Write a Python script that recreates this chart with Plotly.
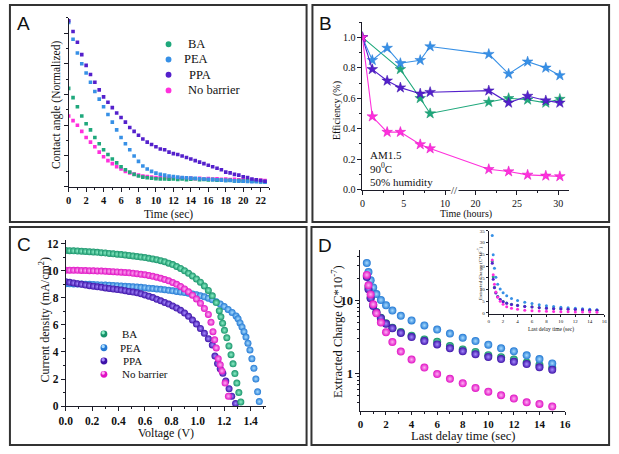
import plotly.graph_objects as go

W, H = 619, 454
def px(x): return x / W
def py(y): return 1 - y / H

SERIF = "Liberation Serif"
SANS = "Liberation Sans"
AX = "#1c1c28"
TXT = "#111111"

# ---------------- Panel A : contact angle vs time ----------------
a_time = [0, 0.5, 1, 1.5, 2, 2.5, 3, 3.5, 4, 4.5, 5, 5.5, 6, 6.5, 7, 7.5, 8, 8.5, 9, 9.5,
          10, 10.5, 11, 11.5, 12, 12.5, 13, 13.5, 14, 14.5, 15, 15.5, 16, 16.5, 17, 17.5,
          18, 18.5, 19, 19.5, 20, 20.5, 21, 21.5, 22, 22.5]
a_ppa = [1.08, 1.01, 0.94, 0.86, 0.79, 0.73, 0.68, 0.63, 0.585, 0.55, 0.515, 0.48, 0.45, 0.42,
         0.385, 0.36, 0.335, 0.31, 0.29, 0.275, 0.26, 0.245, 0.24, 0.225, 0.215, 0.21, 0.2,
         0.19, 0.18, 0.17, 0.16, 0.15, 0.14, 0.13, 0.12, 0.11, 0.095, 0.09, 0.08, 0.075, 0.065,
         0.06, 0.05, 0.045, 0.04, 0.035]
a_pea = [1.07, 0.96, 0.87, 0.80, 0.74, 0.68, 0.62, 0.57, 0.52, 0.47, 0.42, 0.37, 0.32, 0.28,
         0.24, 0.20, 0.165, 0.135, 0.115, 0.10, 0.088, 0.08, 0.075, 0.07, 0.066, 0.062, 0.06,
         0.058, 0.056, 0.055, 0.052, 0.05, 0.048, 0.046, 0.045, 0.043, 0.041, 0.04, 0.038,
         0.036, 0.035, 0.034, 0.033, 0.032, 0.031, 0.03]
a_ba = [0.64, 0.58, 0.52, 0.46, 0.41, 0.37, 0.32, 0.28, 0.24, 0.21, 0.18, 0.155, 0.13, 0.11,
        0.095, 0.08, 0.07, 0.062, 0.058, 0.055, 0.052, 0.05, 0.05, 0.048, 0.05, 0.047, 0.05,
        0.046, 0.048, 0.052, 0.045, 0.047, 0.044, 0.046, 0.042, 0.044, 0.04, 0.042, 0.038,
        0.04, 0.036, 0.038, 0.035, 0.036, 0.033, 0.032]
a_nb = [0.46, 0.43, 0.40, 0.36, 0.32, 0.29, 0.26, 0.225, 0.195, 0.17, 0.15, 0.13, 0.115, 0.10,
        0.09, 0.082, 0.075, 0.07, 0.066, 0.063, 0.06, 0.058, 0.06, 0.055, 0.057, 0.054, 0.058,
        0.053, 0.056, 0.052, 0.055, 0.05, 0.053, 0.049, 0.052, 0.048, 0.05, 0.046, 0.048,
        0.045, 0.047, 0.043, 0.045, 0.042, 0.043, 0.04]

# ---------------- Panel B : efficiency vs time (hours) ----------------
b_time = [0, 1.2, 3.0, 4.6, 7.0, 8.2, 21.6, 24.0, 26.3, 28.5, 30.2]
b_time_ba = [0, 4.6, 7.0, 8.2, 21.6, 24.0, 26.3, 28.5, 30.2]
b_pea = [1.0, 0.85, 0.93, 0.83, 0.85, 0.94, 0.89, 0.76, 0.84, 0.80, 0.75]
b_ba = [1.0, 0.79, 0.60, 0.50, 0.575, 0.60, 0.59, 0.57, 0.595]
b_ppa = [1.0, 0.79, 0.715, 0.67, 0.63, 0.64, 0.65, 0.57, 0.615, 0.585, 0.57]
b_nb = [1.0, 0.48, 0.378, 0.378, 0.297, 0.27, 0.134, 0.119, 0.097, 0.091, 0.087]
b_xticks = [0, 5, 10, 20, 25, 30]
b_xminor = [2.5, 7.5, 22.5, 27.5]

# ---------------- Panel C : J-V curves ----------------
c_v_ba = [0.00, 0.03, 0.06, 0.09, 0.12, 0.15, 0.18, 0.21, 0.24, 0.27, 0.30, 0.33, 0.36, 0.39,
          0.42, 0.45, 0.48, 0.51, 0.54, 0.57, 0.60, 0.63, 0.66, 0.69, 0.72, 0.75, 0.78, 0.81,
          0.84, 0.87, 0.90, 0.93, 0.96, 0.99, 1.02, 1.05, 1.08, 1.11, 1.14,
          1.163, 1.175, 1.188, 1.202, 1.22, 1.236, 1.252, 1.267, 1.281, 1.296, 1.311, 1.326]
c_j_ba = [11.50, 11.49, 11.48, 11.47, 11.45, 11.43, 11.41, 11.39, 11.37, 11.34, 11.32, 11.29,
          11.26, 11.23, 11.20, 11.17, 11.14, 11.10, 11.06, 11.02, 10.98, 10.93, 10.88, 10.82,
          10.75, 10.67, 10.57, 10.46, 10.33, 10.18, 10.01, 9.82, 9.62, 9.40, 9.16, 8.88, 8.55,
          8.15, 7.65,
          7.05, 6.6, 6.13, 5.6, 5.05, 4.45, 3.8, 3.12, 2.4, 1.7, 1.0, 0.3]
c_v_pea = [0.00, 0.03, 0.06, 0.09, 0.12, 0.15, 0.18, 0.21, 0.24, 0.27, 0.30, 0.33, 0.36, 0.39,
           0.42, 0.45, 0.48, 0.51, 0.54, 0.57, 0.60, 0.63, 0.66, 0.69, 0.72, 0.75, 0.78, 0.81,
           0.84, 0.87, 0.90, 0.93, 0.96, 0.99, 1.02, 1.05, 1.08, 1.11, 1.14, 1.17, 1.20, 1.23,
           1.26, 1.29,
           1.305, 1.32, 1.335, 1.35, 1.365, 1.38, 1.395, 1.41, 1.425, 1.44, 1.453, 1.466]
c_j_pea = [9.05, 9.04, 9.03, 9.03, 9.02, 9.01, 9.00, 8.99, 8.98, 8.96, 8.95, 8.94, 8.92, 8.90,
           8.88, 8.86, 8.84, 8.82, 8.80, 8.78, 8.75, 8.72, 8.69, 8.66, 8.63, 8.60, 8.56, 8.52,
           8.48, 8.44, 8.40, 8.35, 8.29, 8.23, 8.16, 8.08, 7.98, 7.86, 7.72, 7.55, 7.36, 7.15,
           6.92, 6.66,
           6.45, 6.15, 5.85, 5.5, 5.1, 4.65, 4.15, 3.5, 2.8, 2.0, 1.05, 0.33]
c_v_ppa = [0.00, 0.03, 0.06, 0.09, 0.12, 0.15, 0.18, 0.21, 0.24, 0.27, 0.30, 0.33, 0.36, 0.39,
           0.42, 0.45, 0.48, 0.51, 0.54, 0.57, 0.60, 0.63, 0.66, 0.69, 0.72, 0.75, 0.78, 0.81,
           0.84, 0.87, 0.90, 0.93, 0.96, 0.99, 1.02, 1.05, 1.08, 1.11,
           1.13, 1.15, 1.17, 1.19, 1.212, 1.237, 1.257, 1.286]
c_j_ppa = [9.20, 9.15, 9.10, 9.05, 9.00, 8.95, 8.90, 8.86, 8.82, 8.78, 8.74, 8.70, 8.66, 8.62,
           8.58, 8.53, 8.48, 8.43, 8.38, 8.30, 8.22, 8.12, 8.02, 7.90, 7.78, 7.66, 7.54, 7.40,
           7.25, 7.08, 6.88, 6.64, 6.36, 6.06, 5.74, 5.38, 4.98, 4.52,
           3.7, 3.15, 2.75, 2.42, 1.85, 1.28, 0.73, 0.19]
c_v_nb = [0.00, 0.03, 0.06, 0.09, 0.12, 0.15, 0.18, 0.21, 0.24, 0.27, 0.30, 0.33, 0.36, 0.39,
          0.42, 0.45, 0.48, 0.51, 0.54, 0.57, 0.60, 0.63, 0.66, 0.69, 0.72, 0.75, 0.78, 0.81,
          0.84, 0.87, 0.90, 0.93, 0.96, 0.99, 1.02, 1.05, 1.08,
          1.10, 1.115, 1.128, 1.14, 1.155, 1.17, 1.183, 1.207, 1.232]
c_j_nb = [10.05, 10.05, 10.04, 10.04, 10.03, 10.02, 10.01, 10.00, 9.99, 9.98, 9.97, 9.96, 9.94,
          9.92, 9.90, 9.88, 9.85, 9.82, 9.79, 9.75, 9.71, 9.66, 9.60, 9.53, 9.45, 9.36, 9.26,
          9.14, 9.00, 8.84, 8.66, 8.45, 8.20, 7.92, 7.60, 7.22, 6.78,
          6.2, 5.5, 4.9, 4.3, 3.5, 3.05, 2.6, 1.7, 0.73]

# ---------------- Panel D : extracted charge vs delay ----------------
d_time = [0.5, 0.63, 0.8, 1.0, 1.25, 1.6, 2.0, 2.5, 3.16, 4, 5, 6, 7, 8, 9, 10, 11, 12, 13, 14, 15]
d_pea = [33, 24.8, 19.1, 15.2, 12.3, 10.2, 8.65, 7.3, 6.2, 5.35, 4.57, 4.0, 3.53, 3.08, 2.78,
         2.48, 2.21, 2.01, 1.77, 1.57, 1.37]
d_ba = [22, 15.5, 11, 8.7, 7.0, 5.8, 4.9, 4.25, 3.7, 3.3, 2.92, 2.71, 2.37, 2.13, 1.97, 1.78,
        1.67, 1.55, 1.41, 1.30, 1.19]
d_ppa = [21.2, 14.4, 10.8, 8.47, 6.88, 5.75, 4.82, 4.17, 3.6, 3.15, 2.78, 2.5, 2.21, 2.01, 1.83,
         1.68, 1.57, 1.44, 1.34, 1.21, 1.12]
d_nb = [22.6, 16.3, 12.2, 8.9, 6.7, 5.0, 3.68, 2.7, 1.99, 1.55, 1.2, 0.98, 0.84, 0.73, 0.63,
        0.56, 0.5, 0.45, 0.40, 0.38, 0.35]

names = ["BA", "PEA", "PPA", "No barrier"]
col_line = {"BA": "#1fa87c", "PEA": "#3790e6", "PPA": "#5420cc", "No barrier": "#ff30dc"}
col_edge = {"BA": "#17936a", "PEA": "#2379d4", "PPA": "#3d12a8", "No barrier": "#e012c4"}
col_hi = {"BA": "#8ff0c8", "PEA": "#a8dcff", "PPA": "#a78cff", "No barrier": "#ffb0f4"}

fig = go.Figure()

# --- A
for nm, ys in [("No barrier", a_nb), ("BA", a_ba), ("PEA", a_pea), ("PPA", a_ppa)]:
    fig.add_trace(go.Scatter(x=a_time, y=ys, mode="markers", xaxis="x", yaxis="y",
                             marker=dict(color=col_line[nm], size=3.6, symbol="square"),
                             name=nm, showlegend=False))

# --- B (broken time axis)
def b_pos(t):
    return t if t <= 12 else t - 6.3

for nm, xs, ys in [("BA", b_time_ba, b_ba), ("PEA", b_time, b_pea),
                   ("PPA", b_time, b_ppa), ("No barrier", b_time, b_nb)]:
    fig.add_trace(go.Scatter(x=[b_pos(t) for t in xs], y=ys, mode="lines+markers",
                             xaxis="x2", yaxis="y2",
                             line=dict(color=col_line[nm], width=1.1),
                             marker=dict(color=col_line[nm], size=8, symbol="star",
                                         line=dict(width=0.5, color=col_edge[nm])),
                             name=nm, showlegend=False))

# --- C
for nm, xs, ys in [("PEA", c_v_pea, c_j_pea), ("PPA", c_v_ppa, c_j_ppa),
                   ("No barrier", c_v_nb, c_j_nb), ("BA", c_v_ba, c_j_ba)]:
    fig.add_trace(go.Scatter(x=xs, y=ys, mode="markers", xaxis="x3", yaxis="y3",
                             marker=dict(color=col_edge[nm], size=7,
                                         gradient=dict(type="radial", color=col_hi[nm])),
                             name=nm, showlegend=False))

# --- D main + inset
for nm, ys in [("BA", d_ba), ("PEA", d_pea), ("PPA", d_ppa), ("No barrier", d_nb)]:
    fig.add_trace(go.Scatter(x=d_time, y=ys, mode="markers", xaxis="x4", yaxis="y4",
                             marker=dict(color=col_edge[nm], size=8,
                                         gradient=dict(type="radial", color=col_hi[nm])),
                             name=nm, showlegend=False))
    fig.add_trace(go.Scatter(x=d_time, y=ys, mode="markers", xaxis="x5", yaxis="y5",
                             marker=dict(color=col_line[nm], size=3),
                             name=nm, showlegend=False))

def axis(**kw):
    base = dict(showline=True, linecolor=AX, linewidth=1, ticks="outside", tickcolor=AX,
                ticklen=4, tickwidth=1, showgrid=False, zeroline=False, fixedrange=True)
    base.update(kw)
    return base

bold = lambda s: dict(family=SERIF, size=s, color=TXT, weight="bold")
reg = lambda s: dict(family=SERIF, size=s, color=TXT)

fig.update_layout(
    width=W, height=H, margin=dict(l=0, r=0, t=0, b=0), autosize=False,
    paper_bgcolor="white", plot_bgcolor="rgba(0,0,0,0)",
    xaxis=axis(domain=[px(63), px(268)], range=[0, 23], anchor="y", tick0=0, dtick=2,
               tickfont=bold(10.5), minor=dict(ticks="outside", dtick=1, ticklen=2, tickcolor=AX)),
    yaxis=axis(domain=[py(188), py(16)], range=[0, 1.1], anchor="x", tick0=0, dtick=0.2,
               showticklabels=False, minor=dict(ticks="outside", dtick=0.1, ticklen=2, tickcolor=AX)),
    xaxis2=axis(domain=[px(363), px(574)], range=[0, 25], anchor="y2",
                tickmode="array", tickvals=[b_pos(t) for t in b_xticks],
                ticktext=[str(t) for t in b_xticks], tickfont=reg(10),
                minor=dict(ticks="outside", tickmode="array",
                           tickvals=[b_pos(t) for t in b_xminor], ticklen=2, tickcolor=AX)),
    yaxis2=axis(domain=[py(191), py(20.5)], range=[0, 1.1], anchor="x2", tick0=0, dtick=0.2,
                tickformat=".1f", tickfont=reg(10),
                minor=dict(ticks="outside", dtick=0.1, ticklen=2, tickcolor=AX)),
    xaxis3=axis(domain=[px(60), px(265)], range=[0, 1.52], anchor="y3", tick0=0, dtick=0.2,
                tickformat=".1f", tickfont=bold(11.5),
                minor=dict(ticks="outside", dtick=0.1, ticklen=2, tickcolor=AX)),
    yaxis3=axis(domain=[py(411.3), py(242)], range=[0, 12.3], anchor="x3", tick0=0, dtick=2,
                tickfont=bold(11.5), minor=dict(ticks="outside", dtick=1, ticklen=2, tickcolor=AX)),
    xaxis4=axis(domain=[px(361), px(570)], range=[0, 16], anchor="y4", tick0=0, dtick=2,
                ticklen=3, tickfont=bold(11),
                minor=dict(ticks="outside", dtick=1, ticklen=2, tickcolor=AX)),
    yaxis4=axis(domain=[py(416), py(252)], type="log", range=[-0.5135, 1.703], anchor="x4",
                tickmode="array", tickvals=[1, 10], ticktext=["1", "10"], tickfont=bold(12.5),
                minor=dict(ticks="outside", tickmode="array", ticklen=2, tickcolor=AX,
                           tickvals=[0.4, 0.5, 0.6, 0.7, 0.8, 0.9, 2, 3, 4, 5, 6, 7, 8, 9, 20, 30, 40])),
    xaxis5=axis(domain=[px(492), px(610)], range=[0, 16], anchor="y5", tick0=0, dtick=2,
                ticklen=2, tickfont=reg(5), linewidth=0.8),
    yaxis5=axis(domain=[py(318), py(233)], range=[-0.6, 35], anchor="x5", tick0=0, dtick=5,
                ticklen=2, tickfont=reg(5), linewidth=0.8),
)

shapes = []
for (x0, y0, x1, y1) in [(3, 3, 306, 224), (312, 3, 615, 224), (3, 229, 306, 451), (311, 229, 615, 451)]:
    shapes.append(dict(type="rect", xref="paper", yref="paper", x0=px(x0), x1=px(x1),
                       y0=py(y1), y1=py(y0), line=dict(color="#333333", width=2)))

ann = []
def note(x, y, text, font, xanchor="center", yanchor="middle", angle=0):
    ann.append(dict(x=px(x), y=py(y), xref="paper", yref="paper", text=text, showarrow=False,
                    font=font, xanchor=xanchor, yanchor=yanchor, textangle=angle))

for (x, y, t) in [(17, 22, "A"), (325, 22, "B"), (17, 247, "C"), (325, 248, "D")]:
    note(x, y, t, dict(family=SANS, size=19, color="#111"))

note(165, 216, "Time (sec)", reg(11.5))
note(50, 104, "Contact angle (Normalized)", reg(11.5), angle=-90)
note(469, 216, "Time (hours)", reg(10))
note(337, 110, "Efficiency (%)", reg(10), angle=-90)
note(162, 439, "Voltage (V)", reg(12))
note(38, 323, "Current density (mA/cm<sup>2</sup>)", reg(12), angle=-90)
note(466, 442, "Last delay time (sec)", reg(12.5))
note(337, 335, "Extracted Charge (C*10<sup>-7</sup>)", reg(12.5), angle=-90)
note(556, 333, "Last delay time (sec)", reg(5.5))
note(483, 276, "Extracted Charge (C*10<sup>-7</sup>)", reg(5), angle=-90)

note(369, 156, "AM1.5", reg(11), xanchor="left")
note(369, 169, "90<sup>0</sup>C", reg(11), xanchor="left")
note(369, 183, "50% humidity", reg(11), xanchor="left")
ann.append(dict(x=b_pos(11.1), y=0, xref="x2", yref="y2", text="//", showarrow=False,
                font=dict(family=SERIF, size=11, color=AX), xanchor="center", yanchor="middle",
                bgcolor="white", borderpad=0))

for i, nm in enumerate(names):
    ya = [43, 58.5, 74, 90][i]
    shapes.append(dict(type="circle", xref="paper", yref="paper", x0=px(162), x1=px(168),
                       y0=py(ya + 3), y1=py(ya - 3), fillcolor=col_line[nm], line=dict(width=0)))
    note([183, 179, 184, 183][i], ya, nm, reg(12.5), xanchor="left")
    yc = [338, 352, 365.5, 379][i]
    shapes.append(dict(type="circle", xref="paper", yref="paper", x0=px(95.5), x1=px(102.5),
                       y0=py(yc + 3.5), y1=py(yc - 3.5), fillcolor=col_edge[nm], line=dict(width=0)))
    shapes.append(dict(type="circle", xref="paper", yref="paper", x0=px(96.5), x1=px(100),
                       y0=py(yc + 0.5), y1=py(yc - 3), fillcolor=col_hi[nm], line=dict(width=0)))
    note([115, 113, 116, 115][i], yc, nm, reg(11), xanchor="left")

fig.update_layout(shapes=shapes, annotations=ann)
fig.write_html("out.html")
